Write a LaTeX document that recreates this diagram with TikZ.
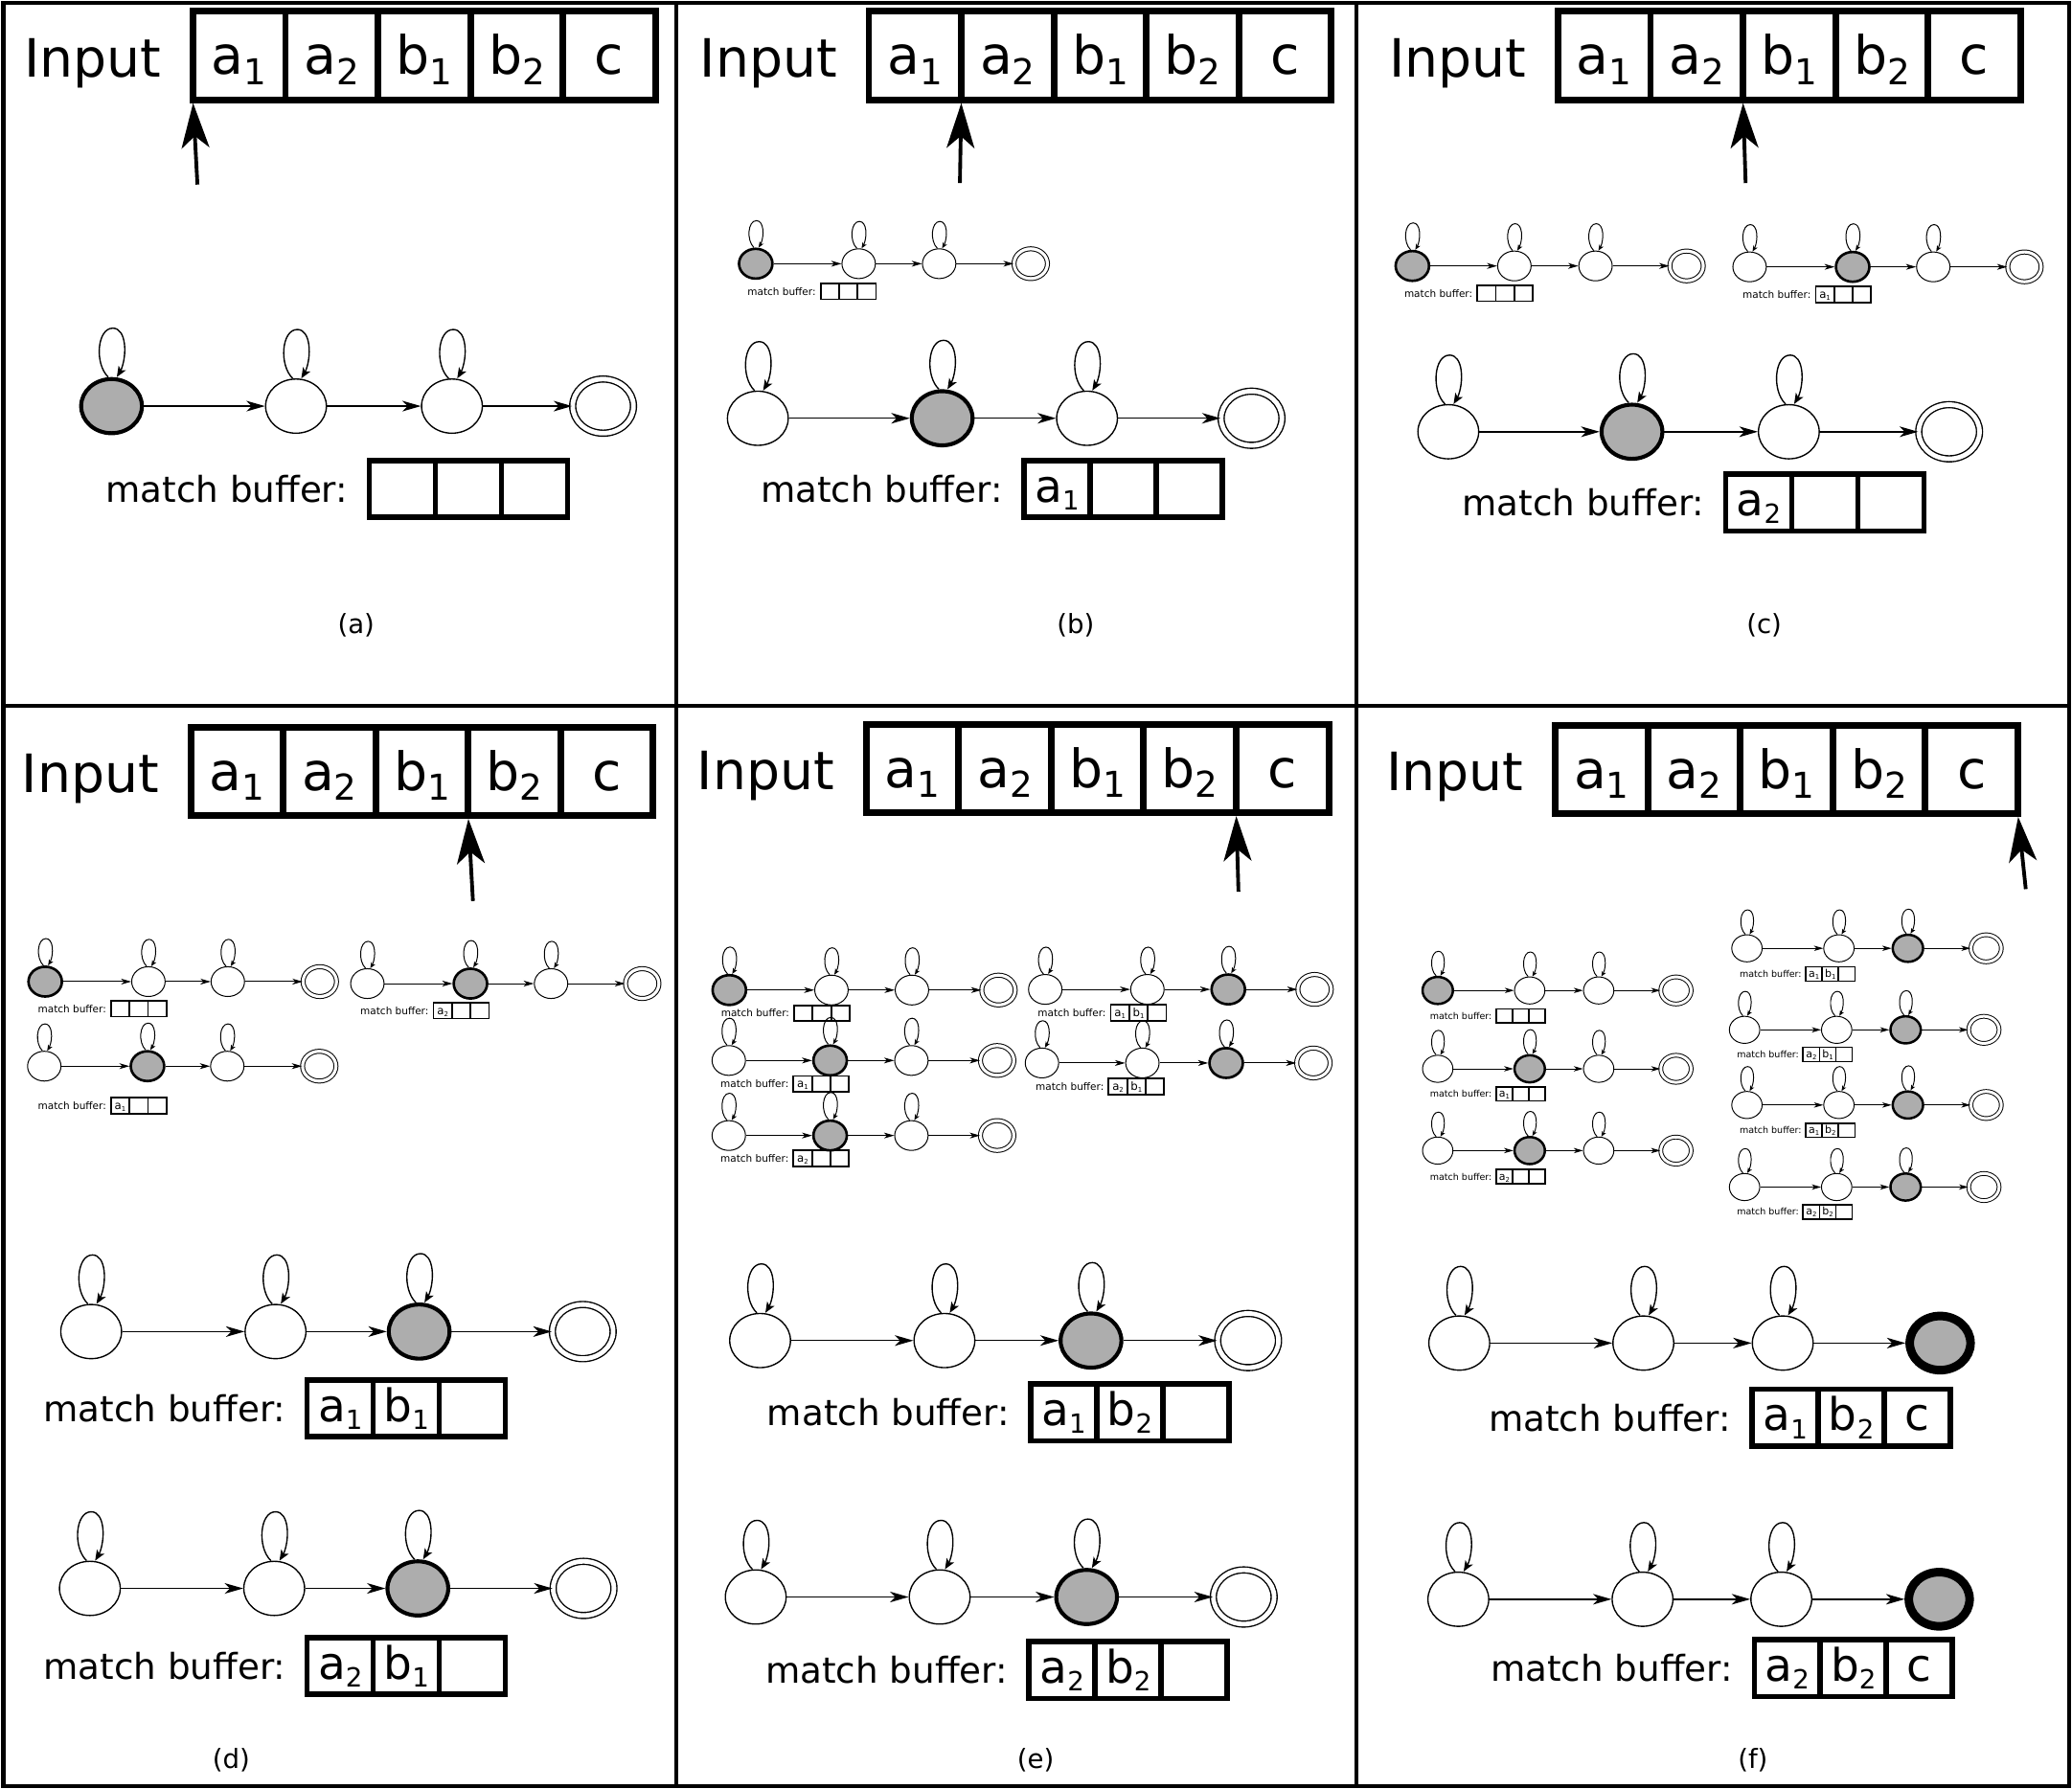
\documentclass[tikz,border=0pt]{standalone}
\usepackage{fontspec}
\setmainfont{DejaVu Sans}
\usetikzlibrary{arrows.meta,shapes.geometric,bending}
\definecolor{actgray}{RGB}{173,173,173}

\newcommand\tapesub[2]{#1\raisebox{-7.5pt}{\fontsize{27}{27}\selectfont #2}}
\newcommand\bigsub[2]{#1\raisebox{-6pt}{\fontsize{20}{20}\selectfont #2}\hspace{11pt}}
\newcommand\smlsub[2]{#1\raisebox{-1.5pt}{\fontsize{5}{5}\selectfont #2}\hspace{2.5pt}}

\newcommand\bigbuf{\def\bw{50}\def\bh{43}\def\blw{4}\def\bfs{34}\def\bth{20}\def\btf{27}\def\bgap{16}}
\newcommand\smallbuf{\def\bw{14}\def\bh{12}\def\blw{1.3}\def\bfs{8.5}\def\bth{5.5}\def\btf{7.6}\def\bgap{3.5}}
\newcommand\tinybuf{\def\bw{12.4}\def\bh{10.8}\def\blw{1.2}\def\bfs{8}\def\bth{5}\def\btf{6.9}\def\bgap{3}}

\tikzset{
  frame/.style={line width=3pt},
  tapecell/.style={draw, line width=5pt, minimum width=70pt, minimum height=67pt,
    inner sep=0pt, outer sep=0pt, text height=29pt, text depth=0pt,
    font=\fontsize{40}{40}\selectfont, anchor=west},
  inputlbl/.style={anchor=base east, inner sep=0pt, font=\fontsize{40}{40}\selectfont},
  ptr/.style={line width=2.8pt, shorten >=2.5pt, -{Stealth[length=34pt,width=21pt,inset=9pt]}},
  idle/.style={ellipse, draw, line width=\sLW pt, minimum width=\sW pt, minimum height=\sH pt,
    inner sep=0pt, fill=white},
  final/.style={idle, double, double distance=\sDD pt},
  act/.style={idle, fill=actgray, line width=\sALW pt},
  actfinal/.style={idle, fill=actgray, line width=\sFLW pt},
  trans/.style={line width=\sLW pt, -{Stealth[length=\sAL pt, width=\sAW pt, inset=\sAI pt]}},
  selfloop/.style={line width=\sLW pt, -{Stealth[length=\sLAL pt, width=\sLAW pt, inset=\sLAI pt, flex]}},
  bcell/.style={draw, line width=\blw pt, minimum width=\bw pt, minimum height=\bh pt,
    inner sep=0pt, outer sep=0pt, text height=\bth pt, text depth=0pt,
    font=\fontsize{\bfs}{\bfs}\selectfont, anchor=west},
  btext/.style={anchor=east, inner sep=0pt, font=\fontsize{\btf}{\btf}\selectfont},
  lbl/.style={inner sep=0pt, font=\fontsize{20}{20}\selectfont},
}

% tape: prefix, path-left x, centre y
\newcommand\tape[3]{%
  \node[tapecell] (#1-t1) at (#2,#3) {\tapesub{a}{1}};
  \node[tapecell] (#1-t2) at (#1-t1.east) {\tapesub{a}{2}};
  \node[tapecell] (#1-t3) at (#1-t2.east) {\tapesub{b}{1}};
  \node[tapecell] (#1-t4) at (#1-t3.east) {\tapesub{b}{2}};
  \node[tapecell] (#1-t5) at (#1-t4.east) {c};
  \node[inputlbl] (#1-in) at ([xshift=-24pt,yshift=-16pt]#1-t1.west) {Input};
}

% automaton: prefix, scale, y, x1, x2, x3, x4, active state
\newcommand\fsm[8]{%
  \pgfmathsetmacro\sW{46*#2}\pgfmathsetmacro\sH{41*#2}%
  \pgfmathsetmacro\sLW{0.4+0.6*#2}%
  \pgfmathsetmacro\sALW{0.6+2.4*#2}%
  \pgfmathsetmacro\sFLW{6.5*#2}%
  \pgfmathsetmacro\sDD{0.8+2.7*#2}%
  \pgfmathsetmacro\sAL{14*#2}\pgfmathsetmacro\sAW{8*#2}\pgfmathsetmacro\sAI{4*#2}%
  \pgfmathsetmacro\sLAL{8*#2}\pgfmathsetmacro\sLAW{6.5*#2}\pgfmathsetmacro\sLAI{2*#2}%
  \pgfmathsetmacro\sLa{2.5*#2}\pgfmathsetmacro\sLb{4*#2}%
  \pgfmathsetmacro\sLc{13*#2}\pgfmathsetmacro\sLd{10*#2}\pgfmathsetmacro\sLe{11*#2}%
  \pgfmathsetmacro\sLh{37*#2}\pgfmathsetmacro\sLf{1*#2}\pgfmathsetmacro\sLg{12*#2}%
  \pgfmathsetmacro\sLi{9*#2}%
  \def\stA{idle}\def\stB{idle}\def\stC{idle}\def\stD{final}%
  \ifcase#8\or\def\stA{act}\or\def\stB{act}\or\def\stC{act}\or\def\stD{actfinal}\fi
  \node[\stA] (#1-q1) at (#4,#3) {};
  \node[\stB] (#1-q2) at (#5,#3) {};
  \node[\stC] (#1-q3) at (#6,#3) {};
  \node[\stD] (#1-q4) at (#7,#3) {};
  \draw[trans] (#1-q1) -- (#1-q2);
  \draw[trans] (#1-q2) -- (#1-q3);
  \draw[trans] (#1-q3) -- (#1-q4);
  \foreach \k in {1,2,3}{%
    \draw[selfloop] ([xshift=-\sLa pt]#1-q\k.north)
      .. controls ([shift={(-\sLc,-\sLd)}]#1-q\k.north) and ([shift={(-\sLe,-\sLh)}]#1-q\k.north)
      .. ([shift={(\sLf,-\sLh)}]#1-q\k.north)
      .. controls ([shift={(\sLc,-\sLh)}]#1-q\k.north) and ([shift={(\sLg,-\sLi)}]#1-q\k.north)
      .. ([xshift=\sLb pt]#1-q\k.north);}
}

% match buffer: prefix, path-left x, centre y, three cells
\newcommand\mbuf[6]{%
  \node[bcell] (#1-b1) at (#2,#3) {#4};
  \node[bcell] (#1-b2) at (#1-b1.east) {#5};
  \node[bcell] (#1-b3) at (#1-b2.east) {#6};
  \node[btext] (#1-bt) at ([xshift=-\bgap pt]#1-b1.west) {match buffer:};
}

\begin{document}
\begin{tikzpicture}[x=1pt,y=-1pt]
\useasboundingbox (0,0) rectangle (1568,1354);
\fill[white] (0,0) rectangle (1568,1354);

% frame
\draw[frame] (2.5,2) rectangle (1565.5,1352);
\draw[frame] (2.5,534) -- (1565.5,534);
\draw[frame] (512,2) -- (512,1352);
\draw[frame] (1026.5,2) -- (1026.5,1352);

% ---------------- (a)
\tape{a}{146}{42}
\coordinate (a-pt) at (149.4,139.7);
\draw[ptr] (a-pt) -- (a-t1.south west);
\fsm{a1}{1}{307.4}{84.4}{224}{342}{456.4}{1}
\bigbuf\mbuf{a1}{279.5}{370}{}{}{}
\node[lbl] (lab-a) at (269.5,473) {(a)};

% ---------------- (b)
\tape{b}{657.5}{42}
\coordinate (b-pt) at (726.4,138.6);
\draw[ptr] (b-pt) -- (b-t1.south east);
\fsm{b1}{0.55}{199.6}{571.9}{649.8}{710.7}{780}{1}
\smallbuf\mbuf{b1}{621}{220.6}{}{}{}
\fsm{b2}{1}{316.6}{573.5}{713}{822.6}{947.1}{2}
\bigbuf\mbuf{b2}{775}{370}{\bigsub{a}{1}}{}{}
\node[lbl] (lab-b) at (814,473) {(b)};

% ---------------- (c)
\tape{c}{1179}{42}
\coordinate (c-pt) at (1321,138.6);
\draw[ptr] (c-pt) -- (c-t2.south east);
\fsm{c1}{0.55}{201.3}{1068.8}{1146}{1207.4}{1276.3}{1}
\smallbuf\mbuf{c1}{1118}{222}{}{}{}
\fsm{c2}{0.55}{202}{1324}{1402}{1463}{1532}{2}
\smallbuf\mbuf{c2}{1374}{223}{\smlsub{a}{1}}{}{}
\fsm{c3}{1}{326.8}{1096}{1235}{1353.7}{1475}{2}
\bigbuf\mbuf{c3}{1306}{380.5}{\bigsub{a}{2}}{}{}
\node[lbl] (lab-c) at (1335,473) {(c)};

% ---------------- (d)
\tape{d}{144.3}{583.8}
\coordinate (d-pt) at (357.9,682);
\draw[ptr] (d-pt) -- (d-t3.south east);
\fsm{d1}{0.55}{743}{34.2}{112.3}{172.4}{242}{1}
\smallbuf\mbuf{d1}{84}{763.5}{}{}{}
\fsm{d2}{0.55}{744.5}{278}{356}{417}{486}{2}
\smallbuf\mbuf{d2}{328}{765}{\smlsub{a}{2}}{}{}
\fsm{d3}{0.55}{807}{33.5}{111.6}{172}{241.6}{2}
\smallbuf\mbuf{d3}{84}{837}{\smlsub{a}{1}}{}{}
\fsm{d4}{1}{1007.9}{69}{208.5}{317.2}{441}{3}
\bigbuf\mbuf{d4}{232.5}{1066}{\bigsub{a}{1}}{\bigsub{b}{1}}{}
\fsm{d5}{1}{1202.3}{68}{207.5}{316.2}{441.6}{3}
\bigbuf\mbuf{d5}{232.5}{1261}{\bigsub{a}{2}}{\bigsub{b}{1}}{}
\node[lbl] (lab-d) at (175,1332) {(d)};

% ---------------- (e)
\tape{e}{655.5}{581.7}
\coordinate (e-pt) at (937.2,675);
\draw[ptr] (e-pt) -- (e-t4.south east);
\fsm{e1}{0.55}{749.4}{551.9}{629.2}{690.1}{755.6}{1}
\smallbuf\mbuf{e1}{601}{767}{}{}{}
\fsm{e2}{0.55}{802.7}{551.5}{628.2}{689.7}{754.6}{2}
\smallbuf\mbuf{e2}{600.5}{820.4}{\smlsub{a}{1}}{}{}
\fsm{e3}{0.55}{859.5}{551.5}{628.2}{689.7}{754.6}{2}
\smallbuf\mbuf{e3}{600.5}{876.8}{\smlsub{a}{2}}{}{}
\fsm{e4}{0.55}{748.9}{791}{868.3}{929.5}{994.8}{3}
\smallbuf\mbuf{e4}{840.6}{766.6}{\smlsub{a}{1}}{\smlsub{b}{1}}{}
\fsm{e5}{0.55}{804.6}{788.5}{864.5}{927.9}{993.9}{3}
\smallbuf\mbuf{e5}{839}{822.4}{\smlsub{a}{2}}{\smlsub{b}{1}}{}
\fsm{e6}{1}{1014.7}{575.2}{714.7}{825.6}{944.5}{3}
\bigbuf\mbuf{e6}{780}{1069}{\bigsub{a}{1}}{\bigsub{b}{2}}{}
\fsm{e7}{1}{1208.8}{571.9}{711.1}{822.3}{941.2}{3}
\bigbuf\mbuf{e7}{778.7}{1264}{\bigsub{a}{2}}{\bigsub{b}{2}}{}
\node[lbl] (lab-e) at (783.7,1332) {(e)};

% ---------------- (f)
\tape{f}{1177}{582.3}
\coordinate (f-pt) at (1533,673);
\draw[ptr] (f-pt) -- (f-t5.south east);
\fsm{f1}{0.5}{749.7}{1088}{1157.6}{1209.8}{1268.3}{1}
\tinybuf\mbuf{f1}{1132.2}{769}{}{}{}
\fsm{f2}{0.5}{809}{1088}{1157.6}{1209.8}{1268.3}{2}
\tinybuf\mbuf{f2}{1132.2}{828}{\smlsub{a}{1}}{}{}
\fsm{f3}{0.5}{870.9}{1088}{1157.6}{1209.8}{1268.3}{2}
\tinybuf\mbuf{f3}{1132.2}{890.7}{\smlsub{a}{2}}{}{}
\fsm{f4}{0.5}{717.8}{1322}{1391.6}{1443.8}{1503}{3}
\tinybuf\mbuf{f4}{1366.5}{737.2}{\smlsub{a}{1}}{\smlsub{b}{1}}{}
\fsm{f5}{0.5}{779.5}{1320.2}{1389.9}{1442.1}{1501.3}{3}
\tinybuf\mbuf{f5}{1364.5}{798.1}{\smlsub{a}{2}}{\smlsub{b}{1}}{}
\fsm{f6}{0.5}{836.4}{1322}{1391.6}{1443.8}{1503}{3}
\tinybuf\mbuf{f6}{1366.5}{855.5}{\smlsub{a}{1}}{\smlsub{b}{2}}{}
\fsm{f7}{0.5}{898.5}{1320.2}{1389.9}{1442.1}{1501.3}{3}
\tinybuf\mbuf{f7}{1364.5}{917.2}{\smlsub{a}{2}}{\smlsub{b}{2}}{}
\fsm{f8}{1}{1016.6}{1104.3}{1243.6}{1349.1}{1468.2}{4}
\bigbuf\mbuf{f8}{1326}{1073}{\bigsub{a}{1}}{\bigsub{b}{2}}{c}
\fsm{f9}{1}{1210.5}{1103.6}{1243}{1348}{1467.5}{4}
\bigbuf\mbuf{f9}{1327.5}{1262.7}{\bigsub{a}{2}}{\bigsub{b}{2}}{c}
\node[lbl] (lab-f) at (1326.5,1332) {(f)};
\end{tikzpicture}
\end{document}
